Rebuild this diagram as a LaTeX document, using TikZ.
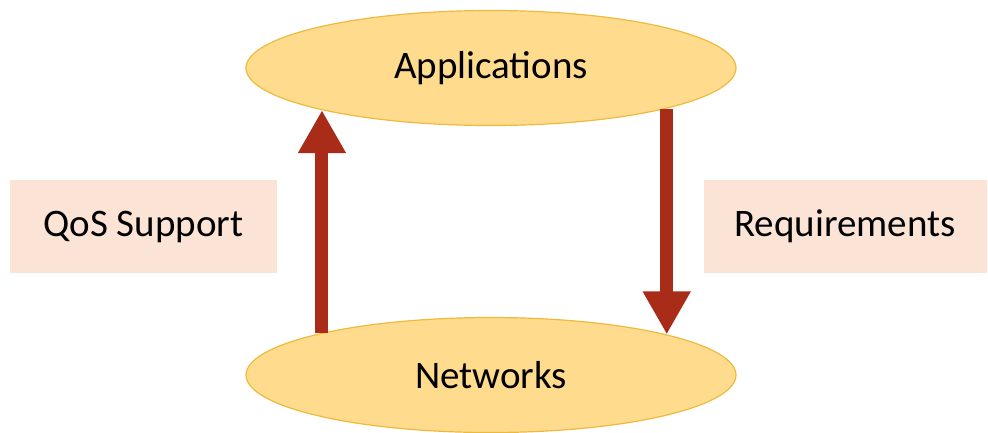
\documentclass[tikz,border=0pt]{standalone}
\usepackage{fontspec}
\setmainfont{Carlito}
\usepackage{tikz}
\usetikzlibrary{arrows.meta, shapes, positioning}
\definecolor{layerfill}{RGB}{255,219,142}
\definecolor{layerdraw}{RGB}{238,186,62}
\definecolor{flowred}{RGB}{168,44,24}
\definecolor{tagfill}{RGB}{251,228,214}

\begin{document}
\begin{tikzpicture}[x=1pt,y=-1pt,
    layer/.style={ellipse,draw=layerdraw,line width=1.2pt,fill=layerfill,minimum width=490pt,minimum height=115pt,inner sep=0pt,font=\fontsize{39}{46}\selectfont},
    tag/.style={rectangle,fill=tagfill,minimum height=93pt,inner sep=0pt,font=\fontsize{39}{46}\selectfont},
    flow/.style={line width=13pt,draw=flowred,-{Triangle[width=45pt,length=43pt]}}]
    \useasboundingbox (0,0) rectangle (988,432);
    % the two layers
    \node[layer] (app) at (491,68) {Applications};
    \node[layer] (net) at (491,375) {Networks};
    % side labels
    \node[tag,minimum width=267pt] (qos) at (143.5,226.5) {QoS Support};
    \node[tag,minimum width=283pt] (req) at (845,226.5) {Requirements};
    % arrows between layers
    \draw[flow] (net.166.6) -- (app.-166.6); % up
    \draw[flow] (app.-13.4) -- (net.13.4); % down
\end{tikzpicture}
\end{document}
